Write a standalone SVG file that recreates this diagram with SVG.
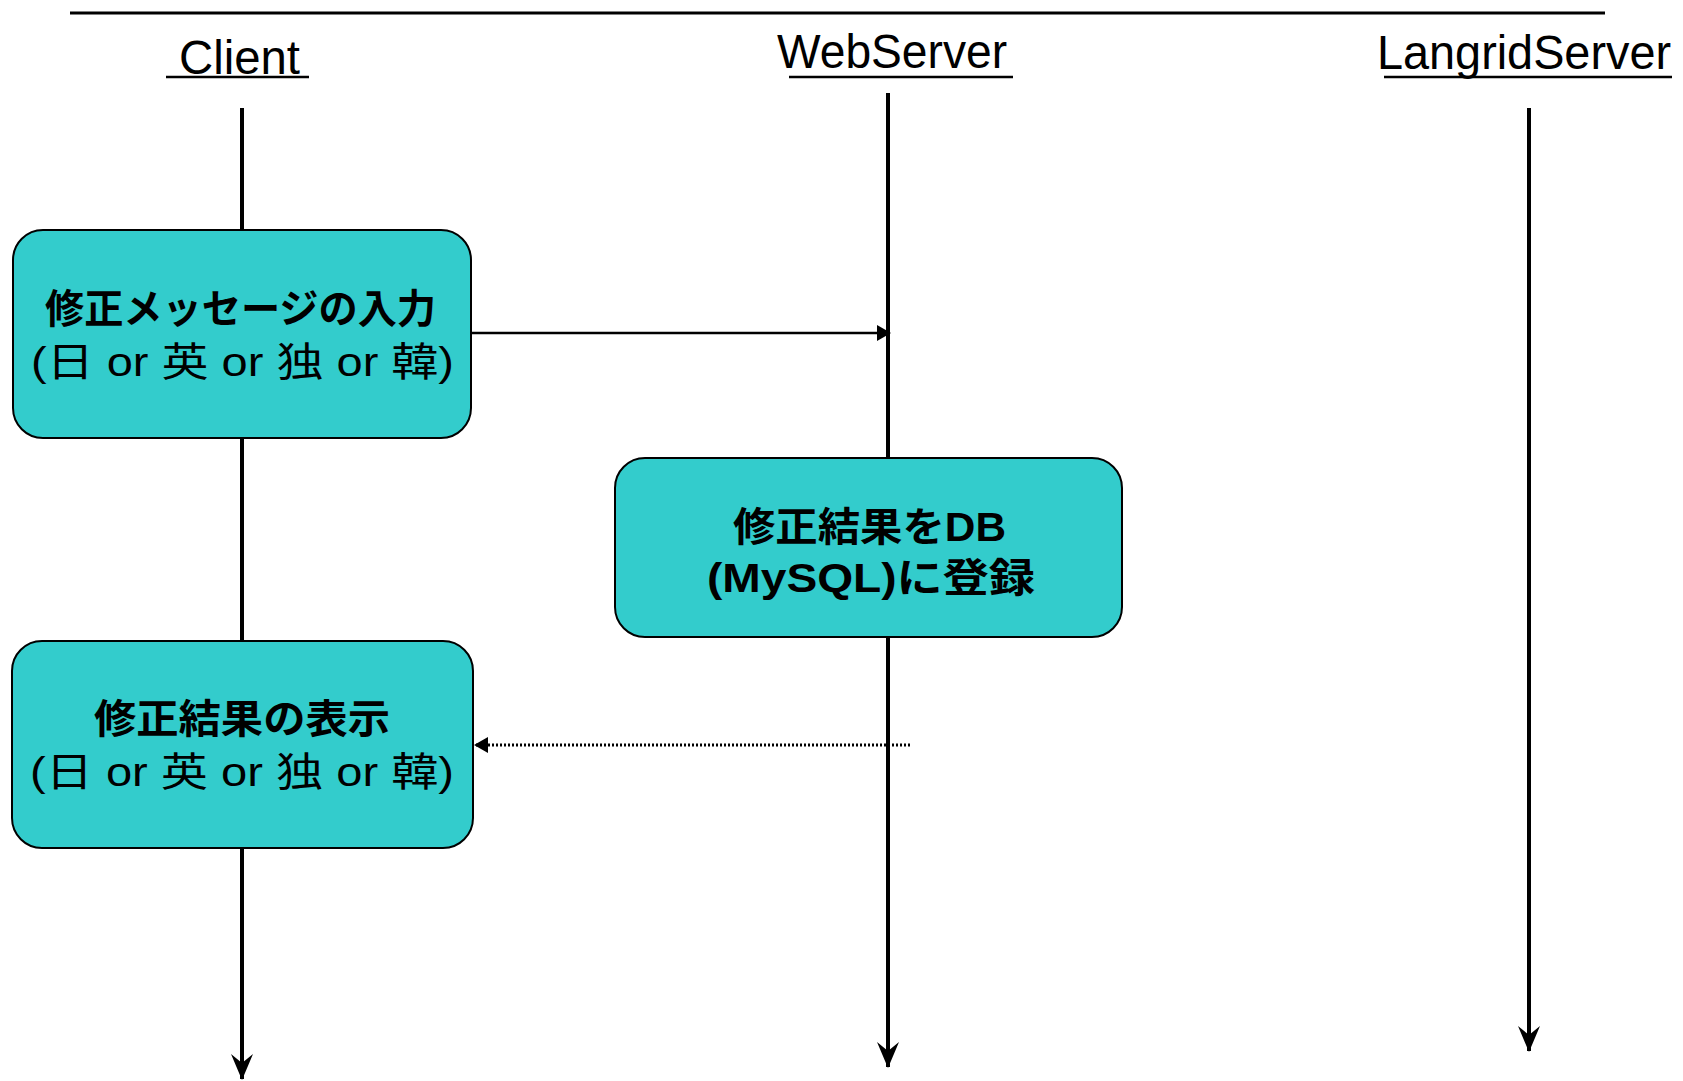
<svg xmlns="http://www.w3.org/2000/svg" width="1683" height="1081" viewBox="0 0 1683 1081">
<style>
.hdr{font-family:"Liberation Sans",Arial,sans-serif;font-size:48px;fill:#000}
.box{fill:#33CCCC;stroke:#000;stroke-width:2}
.t{font-family:"Liberation Sans","Noto Sans CJK JP",sans-serif;font-size:40px;fill:#000;text-anchor:middle}
.b{font-weight:bold}
.life{stroke:#000;stroke-width:4;fill:none}
.ul{stroke:#000;stroke-width:2.5}
</style>
<defs>
<marker id="down" markerWidth="26" markerHeight="26" viewBox="0 0 26 26" refX="25" refY="13" orient="auto" markerUnits="userSpaceOnUse">
<path d="M26 13 L0 2 L9 13 L0 24 Z" fill="#000"/>
</marker>
<marker id="tri" markerWidth="14" markerHeight="16" viewBox="0 0 14 16" refX="13" refY="8" orient="auto" markerUnits="userSpaceOnUse">
<path d="M0 0 L14 8 L0 16 Z" fill="#000"/>
</marker>
</defs>
<line x1="70" y1="13" x2="1605" y2="13" stroke="#000" stroke-width="3"/>
<g id="hdr-client">
<text class="hdr" x="179" y="74" textLength="121" lengthAdjust="spacingAndGlyphs">Client</text>
<line class="ul" x1="166" y1="77" x2="309" y2="77"/>
</g>
<g id="hdr-web">
<text class="hdr" x="777" y="68" textLength="230" lengthAdjust="spacingAndGlyphs">WebServer</text>
<line class="ul" x1="789" y1="77" x2="1013" y2="77"/>
</g>
<g id="hdr-langrid">
<text class="hdr" x="1377" y="69" textLength="294" lengthAdjust="spacingAndGlyphs">LangridServer</text>
<line class="ul" x1="1384" y1="77" x2="1672" y2="77"/>
</g>
<g id="connectors">
<line class="life" x1="242" y1="108" x2="242" y2="1079" marker-end="url(#down)"/>
<line class="life" x1="888" y1="93" x2="888" y2="1067" marker-end="url(#down)"/>
<line class="life" x1="1529" y1="108" x2="1529" y2="1051" marker-end="url(#down)"/>
<line x1="471" y1="333" x2="890" y2="333" stroke="#000" stroke-width="2.5" marker-end="url(#tri)"/>
<line x1="910" y1="745" x2="475" y2="745" stroke="#000" stroke-width="3" stroke-dasharray="2 2" marker-end="url(#tri)"/>
</g>
<g id="node-input">
<rect class="box" x="13" y="230" width="458" height="208" rx="30" ry="30"/>
<text class="t b" x="240.5" y="323" textLength="391" lengthAdjust="spacingAndGlyphs">修正メッセージの入力</text>
<text class="t" x="242.5" y="376" textLength="423" lengthAdjust="spacingAndGlyphs">(日 or 英 or 独 or 韓)</text>
</g>
<g id="node-db">
<rect class="box" x="615" y="458" width="507" height="179" rx="30" ry="30"/>
<text class="t b" x="869.5" y="541" textLength="273" lengthAdjust="spacingAndGlyphs">修正結果をDB</text>
<text class="t b" x="871" y="592" textLength="328" lengthAdjust="spacingAndGlyphs">(MySQL)に登録</text>
</g>
<g id="node-display">
<rect class="box" x="12" y="641" width="461" height="207" rx="30" ry="30"/>
<text class="t b" x="242" y="733" textLength="296" lengthAdjust="spacingAndGlyphs">修正結果の表示</text>
<text class="t" x="242" y="786" textLength="424" lengthAdjust="spacingAndGlyphs">(日 or 英 or 独 or 韓)</text>
</g>
</svg>
